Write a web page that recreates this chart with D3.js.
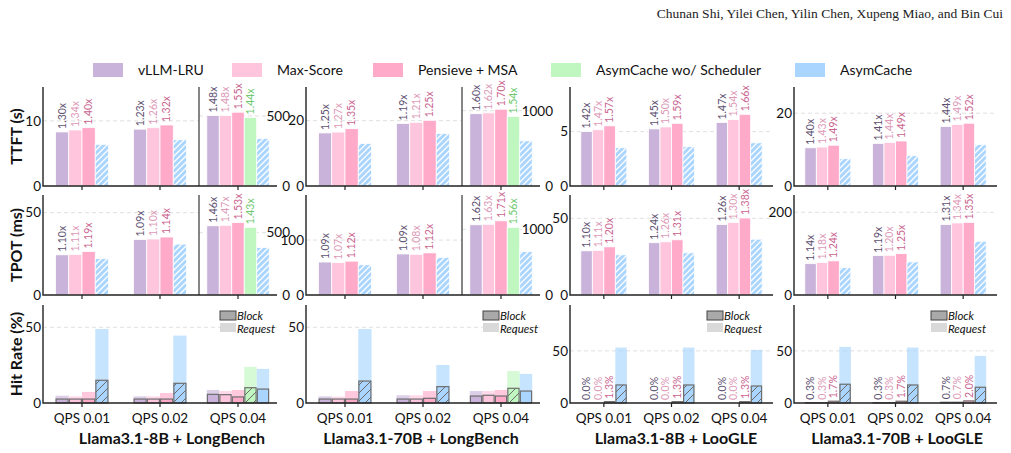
<!DOCTYPE html>
<html>
<head>
<meta charset="utf-8">
<script src="https://cdn.jsdelivr.net/npm/d3@7"></script>
<style>
  body { margin: 0; background: #fff; }
  text { font-family: Lato, "Open Sans", sans-serif; }
</style>
</head>
<body>
<div id="chart"></div>
<script>
// methods and groups
var methods = ["vLLM-LRU", "Max-Score", "Pensieve + MSA", "AsymCache wo/ Scheduler", "AsymCache"];
var qps = ["QPS 0.01", "QPS 0.02", "QPS 0.04"];
var datasets = ["Llama3.1-8B + LongBench", "Llama3.1-70B + LongBench", "Llama3.1-8B + LooGLE", "Llama3.1-70B + LooGLE"];

// TTFT (s) per group: [vLLM, Max-Score, Pensieve, wo/ Scheduler, AsymCache]
var ttftLB8  = [[8.3, 8.6, 8.96, null, 6.4], [8.73, 8.95, 9.37, null, 7.1], [503, 503, 527, 490, 340]];
var ttftLB70 = [[16.25, 16.5, 17.55, null, 13.0], [19.16, 19.48, 20.1, null, 16.1], [960, 972, 1020, 924, 600]];
var ttftLG8  = [[5.0, 5.17, 5.53, null, 3.52], [5.25, 5.43, 5.76, null, 3.62], [5.84, 6.11, 6.59, null, 3.97]];
var ttftLG70 = [[10.5, 10.7, 11.2, null, 7.5], [11.7, 11.95, 12.37, null, 8.3], [16.34, 16.9, 17.25, null, 11.35]];

// TPOT (ms)
var tpotLB8  = [[24.4, 24.6, 26.4, null, 22.2], [33.7, 34.0, 35.2, null, 30.9], [555, 559, 581, 543, 380]];
var tpotLB70 = [[60, 58.9, 61.6, null, 55], [74.7, 74, 76.7, null, 68.5], [1069, 1076, 1129, 1030, 660]];
var tpotLG8  = [[28.8, 29.1, 31.4, null, 26.2], [34.1, 34.65, 36.0, null, 27.5], [45.9, 47.3, 50.2, null, 36.4]];
var tpotLG70 = [[75.8, 78.5, 82.5, null, 66.5], [95.2, 96, 100, null, 80], [170.3, 174.2, 175.5, null, 130]];

// speedup labels
var ttftLB8Lbl  = [["1.30x", "1.34x", "1.40x"], ["1.23x", "1.26x", "1.32x"], ["1.48x", "1.48x", "1.55x", "1.44x"]];
var ttftLB70Lbl = [["1.25x", "1.27x", "1.35x"], ["1.19x", "1.21x", "1.25x"], ["1.60x", "1.62x", "1.70x", "1.54x"]];
var ttftLG8Lbl  = [["1.42x", "1.47x", "1.57x"], ["1.45x", "1.50x", "1.59x"], ["1.47x", "1.54x", "1.66x"]];
var ttftLG70Lbl = [["1.40x", "1.43x", "1.49x"], ["1.41x", "1.44x", "1.49x"], ["1.44x", "1.49x", "1.52x"]];
var tpotLB8Lbl  = [["1.10x", "1.11x", "1.19x"], ["1.09x", "1.10x", "1.14x"], ["1.46x", "1.47x", "1.53x", "1.43x"]];
var tpotLB70Lbl = [["1.09x", "1.07x", "1.12x"], ["1.09x", "1.08x", "1.12x"], ["1.62x", "1.63x", "1.71x", "1.56x"]];
var tpotLG8Lbl  = [["1.10x", "1.11x", "1.20x"], ["1.24x", "1.26x", "1.31x"], ["1.26x", "1.30x", "1.38x"]];
var tpotLG70Lbl = [["1.14x", "1.18x", "1.24x"], ["1.19x", "1.20x", "1.25x"], ["1.31x", "1.34x", "1.35x"]];

// hit rate (%): request and block
var hitReqLB8  = [[4.8, 4.4, 7.3, null, 48.9], [4.4, 4.4, 6.6, null, 44.5], [8.6, 7.9, 8.6, 23.8, 22.5]];
var hitBlkLB8  = [[2.6, 2.6, 2.6, null, 15.0], [2.6, 2.6, 2.6, null, 13.0], [5.7, 5.5, 4.0, 10.1, 9.2]];
var hitReqLB70 = [[4.4, 4.2, 7.9, null, 48.9], [5.1, 5.1, 7.9, null, 25.1], [7.9, 7.9, 8.6, 21.1, 19.2]];
var hitBlkLB70 = [[2.6, 2.6, 2.6, null, 14.5], [2.6, 2.6, 3.1, null, 10.8], [4.6, 5.1, 4.6, 9.7, 7.9]];
var hitReqLG8  = [[0, 0, 1.3, null, 53.2], [0, 0, 1.3, null, 53.2], [0, 0, 1.3, null, 51.0]];
var hitBlkLG8  = [[0, 0, 1.3, null, 17.3], [0, 0, 1.3, null, 17.3], [0, 0, 1.3, null, 16.3]];
var hitReqLG70 = [[0.3, 0.3, 1.7, null, 53.8], [0.3, 0.3, 1.7, null, 53.2], [0.7, 0.7, 2.0, null, 45.2]];
var hitBlkLG70 = [[0.3, 0.3, 1.7, null, 18.0], [0.3, 0.3, 1.7, null, 17.3], [0.7, 0.7, 2.0, null, 15.1]];
var hitLG8Lbl  = [["0.0%", "0.0%", "1.3%"], ["0.0%", "0.0%", "1.3%"], ["0.0%", "0.0%", "1.3%"]];
var hitLG70Lbl = [["0.3%", "0.3%", "1.7%"], ["0.3%", "0.3%", "1.7%"], ["0.7%", "0.7%", "2.0%"]];

// axis limits / ticks (main, inset for QPS 0.04 in LongBench)
var ttftMax = [15.2, 30.3, 9.1, 27.2], ttftTick = [10, 20, 5, 20];
var ttftInMax = [707, 1315], ttftInTick = [500, 1000];
var tpotMax = [60.7, 182, 65.2, 241.8], tpotTick = [50, 100, 50, 200];
var tpotInMax = [802, 1522], tpotInTick = [500, 1000];
var hitMax = [64.7, 64.7, 94, 94], hitTick = [50, 50, 50, 50];

var colors = ["#cab3da", "#ffc5dd", "#ffaac9", "#c0f7c0", "#a9d5ff"];
var lblColors = ["#5d5170", "#dc9ab7", "#c9658f", "#6fc86f"];

var rows = [
  {title: "TTFT (s)", top: 87, bottom: 186, vals: [ttftLB8, ttftLB70, ttftLG8, ttftLG70],
   lbls: [ttftLB8Lbl, ttftLB70Lbl, ttftLG8Lbl, ttftLG70Lbl], max: ttftMax, tick: ttftTick, inMax: ttftInMax, inTick: ttftInTick},
  {title: "TPOT (ms)", top: 195, bottom: 295, vals: [tpotLB8, tpotLB70, tpotLG8, tpotLG70],
   lbls: [tpotLB8Lbl, tpotLB70Lbl, tpotLG8Lbl, tpotLG70Lbl], max: tpotMax, tick: tpotTick, inMax: tpotInMax, inTick: tpotInTick},
  {title: "Hit Rate (%)", top: 305, bottom: 403, req: [hitReqLB8, hitReqLB70, hitReqLG8, hitReqLG70],
   blk: [hitBlkLB8, hitBlkLB70, hitBlkLG8, hitBlkLG70], lbls: [null, null, hitLG8Lbl, hitLG70Lbl], max: hitMax, tick: hitTick}
];
var cols = [
  {x0: 43, x1: 277, titleX: 172, inset: true, legDx: 57},
  {x0: 306, x1: 540, titleX: 421, inset: true, legDx: 57},
  {x0: 570, x1: 773, titleX: 676, inset: false, legDx: 66},
  {x0: 794, x1: 997, titleX: 897, inset: false, legDx: 66}
];

var svg = d3.select("#chart").append("svg")
    .attr("width", 1011)
    .attr("height", 453);

var defs = svg.append("defs");
function hatch(id, size, color, w) {
  defs.append("pattern")
      .attr("id", id)
      .attr("patternUnits", "userSpaceOnUse")
      .attr("width", size).attr("height", size)
    .append("path")
      .attr("d", "M0," + size + " L" + size + ",0 M" + (-size/4) + "," + (size/4) + " L" + (size/4) + "," + (-size/4) +
                 " M" + (size*0.75) + "," + (size*1.25) + " L" + (size*1.25) + "," + (size*0.75))
      .attr("stroke", color)
      .attr("stroke-width", w);
}
hatch("hw", 6, "#fff", 1.3);
hatch("hg", 8, "#6a6a6a", 1);

// header
svg.append("text")
    .attr("x", 1003).attr("y", 18)
    .attr("text-anchor", "end")
    .style("font-family", "'Liberation Serif', serif")
    .style("font-size", "13.5px")
    .attr("fill", "#222")
    .text("Chunan Shi, Yilei Chen, Yilin Chen, Xupeng Miao, and Bin Cui");

// legend
var legX = [93, 232, 373, 551, 795];
methods.forEach(function(m, i) {
  svg.append("rect")
      .attr("x", legX[i]).attr("y", 63)
      .attr("width", 30).attr("height", 14)
      .attr("fill", colors[i]);
  svg.append("text")
      .attr("x", legX[i] + 45).attr("y", 75)
      .style("font-size", "14px")
      .attr("fill", "#111")
      .text(m);
});

// y titles
rows.forEach(function(r) {
  svg.append("text")
      .attr("transform", "translate(22," + ((r.top + r.bottom) / 2) + ") rotate(-90)")
      .attr("text-anchor", "middle")
      .style("font-size", "16px")
      .style("font-weight", "bold")
      .attr("fill", "#111")
      .text(r.title);
});

var fmt = d3.format("d");

cols.forEach(function(col, c) {
  var x = d3.scaleBand().domain(qps).range([col.x0, col.x1]);
  var bw = x.bandwidth();
  var insetX = x(qps[2]);

  rows.forEach(function(r, ri) {
    var g = svg.append("g");
    var y = d3.scaleLinear().domain([0, r.max[c]]).range([r.bottom, r.top]);
    var hasInset = col.inset && ri < 2;
    var yIn = hasInset ? d3.scaleLinear().domain([0, r.inMax[c]]).range([r.bottom, r.top]) : null;

    // grid
    g.append("line")
        .attr("x1", col.x0).attr("x2", hasInset ? insetX : col.x1)
        .attr("y1", y(r.tick[c])).attr("y2", y(r.tick[c]))
        .attr("stroke", "#dcdcdc").attr("stroke-dasharray", "4,3").attr("stroke-width", 0.9);
    if (hasInset) {
      g.append("line")
          .attr("x1", insetX).attr("x2", col.x1 - 10)
          .attr("y1", yIn(r.inTick[c])).attr("y2", yIn(r.inTick[c]))
          .attr("stroke", "#dcdcdc").attr("stroke-dasharray", "4,3").attr("stroke-width", 0.9);
    }

    // bars
    qps.forEach(function(q, gi) {
      var idx = [];
      var src = ri < 2 ? r.vals[c][gi] : r.req[c][gi];
      src.forEach(function(v, i) { if (v !== null) idx.push(i); });
      var n = idx.length;
      var w = (n === 5 ? 0.16 : 0.17) * bw;
      var cx = x(q) + bw / 2;
      var ys = (hasInset && gi === 2) ? yIn : y;
      idx.forEach(function(m, k) {
        var bx = cx + (k - n / 2) * w;
        if (ri < 2) {
          var v = r.vals[c][gi][m];
          g.append("rect")
              .attr("x", bx).attr("y", ys(v))
              .attr("width", w).attr("height", ys(0) - ys(v))
              .attr("fill", colors[m]).attr("stroke", "#fff").attr("stroke-width", 0.8);
          if (m === 4) {
            g.append("rect")
                .attr("x", bx).attr("y", ys(v))
                .attr("width", w).attr("height", ys(0) - ys(v))
                .attr("fill", "url(#hw)");
          } else {
            g.append("text")
                .attr("transform", "translate(" + (bx + w / 2) + "," + (ys(v) - 3) + ") rotate(-90)")
                .attr("dy", "0.35em")
                .style("font-size", "10.5px")
                .attr("fill", lblColors[m])
                .text(r.lbls[c][gi][k]);
          }
        } else {
          var rq = r.req[c][gi][m], bk = r.blk[c][gi][m];
          g.append("rect")
              .attr("x", bx).attr("y", y(rq))
              .attr("width", w).attr("height", y(0) - y(rq))
              .attr("fill", colors[m]).attr("fill-opacity", 0.65);
          g.append("rect")
              .attr("x", bx + 0.6).attr("y", y(bk))
              .attr("width", w - 1.2).attr("height", y(0) - y(bk))
              .attr("fill", colors[m]).attr("stroke", "#6e6e6e").attr("stroke-width", 1.2);
          if (k === 3) {
            g.append("rect")
                .attr("x", bx + 0.6).attr("y", y(bk))
                .attr("width", w - 1.2).attr("height", y(0) - y(bk))
                .attr("fill", "url(#hg)");
          }
          if (r.lbls[c] && m !== 4) {
            g.append("text")
                .attr("transform", "translate(" + (bx + w / 2) + "," + (y(rq) - 3) + ") rotate(-90)")
                .attr("dy", "0.35em")
                .style("font-size", "10.5px")
                .attr("fill", lblColors[m])
                .text(r.lbls[c][gi][k]);
          }
        }
      });
    });

    // y axis
    var ya = g.append("g")
        .attr("transform", "translate(" + (col.x0 - 2) + ",0)")
        .call(d3.axisLeft(y).tickValues([0, r.tick[c]]).tickFormat(fmt).tickSize(0).tickPadding(0));
    ya.select(".domain").remove();
    ya.selectAll("text").style("font-size", "13.5px").style("font-family", "Lato").attr("fill", "#111");
    if (hasInset) {
      var yb = g.append("g")
          .attr("transform", "translate(" + (col.x1 + 13) + ",0)")
          .call(d3.axisLeft(yIn).tickValues([0, r.inTick[c]]).tickFormat(fmt).tickSize(0).tickPadding(0));
      yb.select(".domain").remove();
      yb.selectAll("text").style("font-size", "13.5px").style("font-family", "Lato").attr("fill", "#111");
      g.append("line")
          .attr("x1", insetX).attr("x2", insetX)
          .attr("y1", r.top).attr("y2", r.bottom)
          .attr("stroke", "#444").attr("stroke-width", 1.3);
    }

    // x axis
    var xa = g.append("g")
        .attr("transform", "translate(0," + r.bottom + ")")
        .call(d3.axisBottom(x).tickSize(4).tickPadding(6).tickFormat(ri === 2 ? null : ""));
    xa.select(".domain").remove();
    xa.selectAll("line").attr("stroke", "#222").attr("stroke-width", 1.2);
    xa.selectAll("text").style("font-size", "13.5px").style("font-family", "Lato").attr("fill", "#111");

    // spines
    g.append("path")
        .attr("d", "M" + col.x0 + "," + r.top + " V" + r.bottom + " H" + col.x1)
        .attr("fill", "none").attr("stroke", "#222").attr("stroke-width", 1.4);

    // block / request legend
    if (ri === 2) {
      var lx = col.x1 - col.legDx;
      g.append("rect").attr("x", lx).attr("y", 311).attr("width", 16).attr("height", 9)
          .attr("fill", "#a9a9a9").attr("stroke", "#444").attr("stroke-width", 1);
      g.append("text").attr("x", lx + 17).attr("y", 319.5)
          .style("font-size", "11.5px").style("font-style", "italic").attr("fill", "#111").text("Block");
      g.append("rect").attr("x", lx).attr("y", 323).attr("width", 16).attr("height", 9)
          .attr("fill", "#d9d9d9");
      g.append("text").attr("x", lx + 17).attr("y", 332.5)
          .style("font-size", "11.5px").style("font-style", "italic").attr("fill", "#111").text("Request");
    }
  });

  svg.append("text")
      .attr("x", col.titleX).attr("y", 444)
      .attr("text-anchor", "middle")
      .style("font-size", "16px")
      .style("font-weight", "bold")
      .attr("fill", "#111")
      .text(datasets[c]);
});
</script>
</body>
</html>
